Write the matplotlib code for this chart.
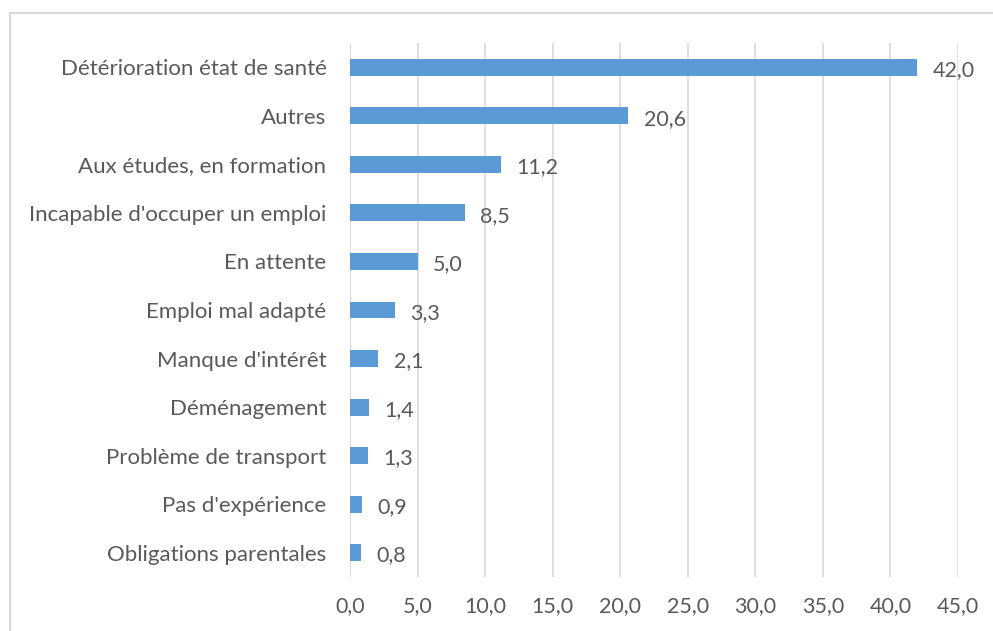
import matplotlib
matplotlib.use("Agg")
import matplotlib.pyplot as plt
from matplotlib.patches import Rectangle

categories = ["Détérioration état de santé", "Autres", "Aux études, en formation",
              "Incapable d'occuper un emploi", "En attente", "Emploi mal adapté",
              "Manque d'intérêt", "Déménagement", "Problème de transport",
              "Pas d'expérience", "Obligations parentales"]
values = [42.0, 20.6, 11.2, 8.5, 5.0, 3.3, 2.1, 1.4, 1.3, 0.9, 0.8]
xticks = [0, 5, 10, 15, 20, 25, 30, 35, 40, 45]

plt.rcParams['font.family'] = ['Lato', 'DejaVu Sans']
txt = '#595959'
fs = 15.5
W, H = 993, 631
fig = plt.figure(figsize=(W/100, H/100), dpi=100)
ax = fig.add_axes([350/W, 1-577/H, (958-350)/W, (577-43)/H])

n = len(categories)
ypos = list(range(n))
ax.barh(ypos, values, height=0.35, color='#5B9BD5', zorder=3)
ax.set_ylim(n-0.5, -0.5)
ax.set_xlim(0, 45)
ax.set_xticks(xticks)
ax.set_xticklabels([f"{t:.1f}".replace('.', ',') for t in xticks], fontsize=fs, color=txt)
ax.set_yticks(ypos)
ax.set_yticklabels(categories, fontsize=16, color=txt)
ax.tick_params(axis='both', length=0)
ax.tick_params(axis='y', pad=17)
ax.tick_params(axis='x', pad=14)
ax.grid(axis='x', color='#D9D9D9', linewidth=1.2, zorder=0)
for s in ax.spines.values():
    s.set_visible(False)
ax.axvline(0, color='#D9D9D9', linewidth=1.2, zorder=2)
for y, v in zip(ypos, values):
    ax.annotate(f"{v:.1f}".replace('.', ','), (v, y), xytext=(11, -2), textcoords='offset points',
                va='center', ha='left', fontsize=fs, color=txt)

fig.patches.append(Rectangle((10/W, -0.1), 1.2, 1 - 13/H + 0.1, transform=fig.transFigure,
                             fill=False, edgecolor='#D9D9D9', linewidth=1.5))
fig.savefig('out.png', dpi=100)
